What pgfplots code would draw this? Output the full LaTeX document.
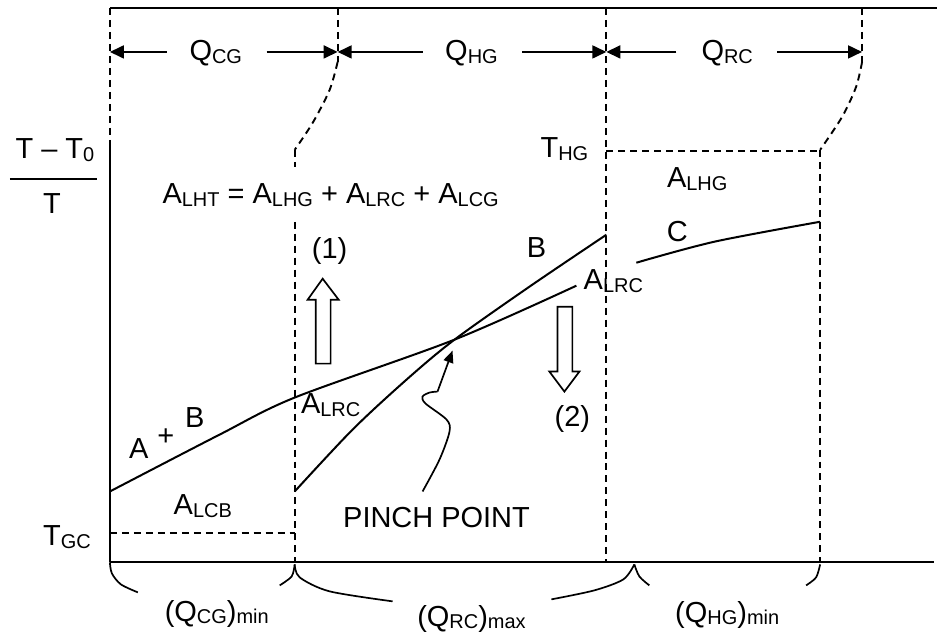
\documentclass[border=0pt]{standalone}
\usepackage{pgfplots}
\pgfplotsset{compat=1.18}
\usepackage{fontspec}
\setmainfont{Liberation Sans}
\usetikzlibrary{arrows.meta}
\newcommand{\sub}[1]{\raisebox{-1.3pt}{\fontsize{10}{11}\selectfont #1}}
\tikzset{
  ln/.style={line width=1pt, black},
  thn/.style={line width=0.85pt, black},
  dsh/.style={line width=0.95pt, black, dash pattern=on 3.5pt off 2.5pt},
  tip/.style={-{Triangle[length=7pt,width=6.5pt]}},
  lbl/.style={anchor=base, inner sep=0pt, font=\fontsize{14.5}{17}\selectfont},
}
\begin{document}
\begin{tikzpicture}[font=\fontsize{14.5}{17}\selectfont]
\begin{axis}[scale only axis, width=469pt, height=317.5pt,
  xmin=0, xmax=938, ymin=0, ymax=635, y dir=reverse,
  hide axis, clip=false]
% bounding frame
\addplot[draw=none] coordinates {(0,0) (938,635)};
% axes
\addplot[ln] coordinates {(110,145) (110,563)};
\addplot[ln] coordinates {(110,563) (935,563)};
\addplot[ln] coordinates {(110,8) (938,8)};
% dashed guides
\addplot[dsh] coordinates {(110,8) (110,145)};
\addplot[dsh] coordinates {(338,8) (338,62)};
\addplot[dsh, smooth] coordinates {(338,62) (330,90) (313,123) (295,150)};
\addplot[dsh] coordinates {(295,150) (295,167)};
\addplot[dsh] coordinates {(295,222) (295,563)};
\addplot[dsh] coordinates {(607,8) (607,563)};
\addplot[dsh] coordinates {(863,8) (863,62)};
\addplot[dsh, smooth] coordinates {(863,62) (857,87) (843,117) (821,150)};
\addplot[dsh] coordinates {(821,150) (821,563)};
\addplot[dsh] coordinates {(607,151) (821,151)};
\addplot[dsh] coordinates {(110,534) (295,534)};
% dimension arrows
\addplot[thn, tip] coordinates {(167,52) (110,52)};
\addplot[thn, tip] coordinates {(267,52) (338,52)};
\addplot[thn, tip] coordinates {(423,52) (338,52)};
\addplot[thn, tip] coordinates {(523,52) (607,52)};
\addplot[thn, tip] coordinates {(677,52) (607,52)};
\addplot[thn, tip] coordinates {(778,52) (863,52)};
% fraction bar
\addplot[thn] coordinates {(10,179) (97,179)};
% curves
\addplot[ln, smooth] coordinates {(110,492) (220,435) (295,398) (455,340) (577,286)};
\addplot[ln, smooth] coordinates {(295,492) (353,430) (407,380) (455,340) (530,287) (607,235)};
\addplot[ln, smooth] coordinates {(637,263) (715,242) (821,222)};
% hollow arrows
\addplot[thn, fill=white] coordinates {(316,364) (331,364) (331,300) (339,300) (323,279) (308,300) (316,300)} -- cycle;
\addplot[thn, fill=white] coordinates {(558,307) (573,307) (573,372) (580,372) (565,392) (550,372) (558,372)} -- cycle;
% pinch pointer
\addplot[thn, smooth] coordinates {(423,492) (440,460) (450,432) (447,420) (426,404) (423,397) (430,393) (438,392)};
\addplot[thn, -{Triangle[length=6pt,width=5pt]}] coordinates {(438,392) (453,351)};
% braces
\addplot[thn, smooth] coordinates {(110,563) (112,574) (121,585) (138,593)};
\addplot[thn, smooth] coordinates {(295,565) (292,577) (280,586)};
\addplot[thn, smooth] coordinates {(295,565) (300,578) (330,592) (393,602)};
\addplot[thn, smooth] coordinates {(635,565) (624,580) (595,591) (552,600)};
\addplot[thn, smooth] coordinates {(635,565) (640,577) (650,586)};
\addplot[thn, smooth] coordinates {(821,565) (817,578) (807,586)};
% labels
\node[lbl] at (axis cs:216,61) {Q\sub{CG}};
\node[lbl] at (axis cs:472,61) {Q\sub{HG}};
\node[lbl] at (axis cs:728,61) {Q\sub{RC}};
\node[lbl] at (axis cs:55,159) {T \textendash\ T\sub{0}};
\node[lbl] at (axis cs:52,214) {T};
\node[lbl] at (axis cs:565,158) {T\sub{HG}};
\node[lbl] at (axis cs:331,204) {A\sub{LHT} = A\sub{LHG} + A\sub{LRC} + A\sub{LCG}};
\node[lbl] at (axis cs:698,188) {A\sub{LHG}};
\node[lbl] at (axis cs:330,259) {(1)};
\node[lbl] at (axis cs:537,258) {B};
\node[lbl] at (axis cs:678,242) {C};
\node[lbl] at (axis cs:614,290) {A\sub{LRC}};
\node[lbl] at (axis cs:573,427) {(2)};
\node[lbl] at (axis cs:331,414) {A\sub{LRC}};
\node[lbl] at (axis cs:139,459) {A};
\node[lbl] at (axis cs:166,446) {+};
\node[lbl] at (axis cs:195,428) {B};
\node[lbl] at (axis cs:203,515) {A\sub{LCB}};
\node[lbl] at (axis cs:437,528) {PINCH POINT};
\node[lbl] at (axis cs:67,546) {T\sub{GC}};
\node[lbl] at (axis cs:217,622) {(Q\sub{CG})\sub{min}};
\node[lbl] at (axis cs:472,627) {(Q\sub{RC})\sub{max}};
\node[lbl] at (axis cs:728,623) {(Q\sub{HG})\sub{min}};
\end{axis}
\end{tikzpicture}
\end{document}
